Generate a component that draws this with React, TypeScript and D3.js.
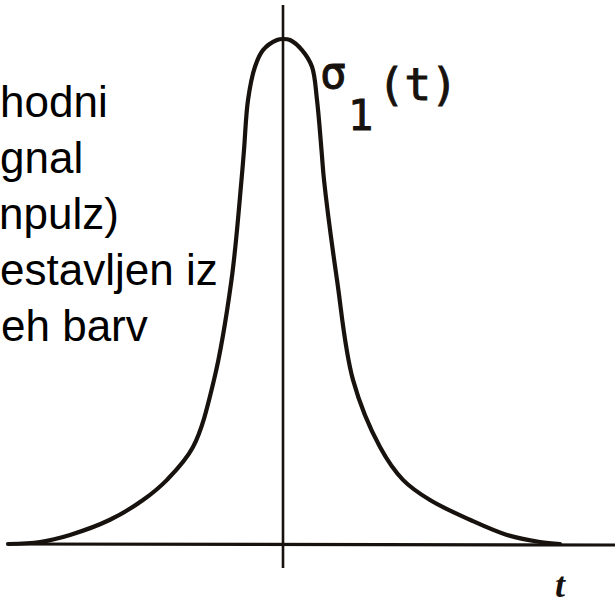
import React, { useMemo } from "react";
import * as d3 from "d3";

const WIDTH = 615;
const HEIGHT = 607;

// Pulse σ1(t): sampled points along the hand-drawn curve (t, amplitude)
const tValues = [
  -5.5, -4.86, -4.26, -3.46, -2.8, -2.32, -1.8, -1.38, -1.03, -0.83, -0.78, -0.7,
  -0.56, -0.4, -0.12, 0, 0.14, 0.38, 0.58, 0.68, 0.77, 0.82, 1.08, 1.4, 1.94, 2.4,
  2.94, 3.74, 4.48, 5.14, 5.54,
];
const sigmaValues = [
  0, 0.004, 0.018, 0.048, 0.087, 0.127, 0.192, 0.325, 0.523, 0.721, 0.78, 0.879,
  0.945, 0.978, 0.998, 1, 0.998, 0.978, 0.945, 0.879, 0.78, 0.721, 0.523, 0.325,
  0.192, 0.127, 0.087, 0.048, 0.018, 0.004, 0,
];

// Caption lines beside the curve
const captionLines = ["hodni", "gnal", "npulz)", "estavljen iz", "eh barv"];
const captionOffsets = [0, 0, -1, 0, 1];

const tDomain: [number, number] = [-5.5, 6.64];
const sigmaDomain: [number, number] = [0, 1];

export default function App() {
  const x = useMemo(() => d3.scaleLinear().domain(tDomain).range([8, 615]), []);
  const y = useMemo(() => d3.scaleLinear().domain(sigmaDomain).range([544, 39]), []);

  const points: [number, number][] = tValues.map((t, i) => [t, sigmaValues[i]]);
  const line = d3
    .line<[number, number]>()
    .x((d) => x(d[0]))
    .y((d) => y(d[1]))
    .curve(d3.curveCatmullRom.alpha(0.5));

  const ink = "#17120e";
  const x0 = x(0);
  const yBase = y(0);

  return (
    <svg
      width={WIDTH}
      height={HEIGHT}
      viewBox={`0 0 ${WIDTH} ${HEIGHT}`}
      style={{ position: "absolute", left: 0, top: 0, background: "#ffffff" }}
    >
      <rect x={0} y={0} width={WIDTH} height={HEIGHT} fill="#ffffff" />

      {/* caption */}
      <text
        fontFamily="'Liberation Sans', Arial, sans-serif"
        fontSize={44}
        fill="#000"
      >
        {captionLines.map((s, i) => (
          <tspan key={i} x={captionOffsets[i]} y={117 + i * 56}>
            {s}
          </tspan>
        ))}
      </text>

      {/* axes */}
      <line x1={x(tDomain[0])} x2={x(tDomain[1])} y1={yBase} y2={yBase + 1} stroke={ink} strokeWidth={3.2} />
      <line x1={x0} x2={x0} y1={5} y2={568} stroke={ink} strokeWidth={2.6} />

      {/* pulse curve */}
      <path d={line(points) ?? ""} fill="none" stroke={ink} strokeWidth={4.2} strokeLinejoin="round" strokeLinecap="round" />

      {/* curve label σ1(t) */}
      <g fontFamily="'DejaVu Sans Mono', monospace" fill={ink} stroke={ink} strokeWidth={1}>
        <text x={320} y={88} fontSize={44}>σ</text>
        <text x={348} y={130} fontSize={42}>1</text>
        <text x={378} y={100} fontSize={44}>(t)</text>
      </g>

      {/* axis label */}
      <text
        x={555}
        y={597}
        fontFamily="'Liberation Serif', 'Times New Roman', serif"
        fontStyle="italic"
        fontWeight="bold"
        fontSize={36}
        fill={ink}
      >
        t
      </text>
    </svg>
  );
}
